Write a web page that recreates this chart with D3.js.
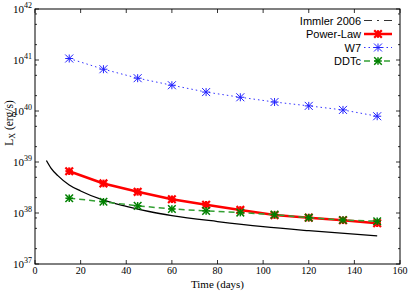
<!DOCTYPE html>
<html>
<head>
<meta charset="utf-8">
<script src="https://cdn.jsdelivr.net/npm/d3@7"></script>
<style>
  html, body { margin: 0; padding: 0; background: #fff; }
  svg { display: block; }
  .tick-lbl { font-family: "Liberation Serif", "DejaVu Serif", serif; fill: #000; }
  .leg-lbl { font-family: "Liberation Sans", Arial, sans-serif; font-size: 11px; fill: #000; }
</style>
</head>
<body>
<svg id="chart" width="415" height="291"></svg>
<script>
// ── data ──
const days = [15, 30, 45, 60, 75, 90, 105, 120, 135, 150];
const powerLaw = [6.6e38, 3.8e38, 2.6e38, 1.86e38, 1.45e38, 1.15e38, 9.1e37, 8.1e37, 7.2e37, 6.3e37];
const w7 = [1.07e41, 6.6e40, 4.4e40, 3.2e40, 2.35e40, 1.86e40, 1.5e40, 1.26e40, 1.05e40, 7.9e39];
const ddtc = [1.95e38, 1.66e38, 1.38e38, 1.2e38, 1.1e38, 1.02e38, 9.3e37, 8.1e37, 7.3e37, 6.9e37];
const immlerDays = [5, 7, 10, 15, 20, 30, 40, 50, 60, 80, 100, 120, 150];
const immler = [1.07e39, 7.6e38, 5.4e38, 3.55e38, 2.7e38, 1.78e38, 1.35e38, 1.07e38, 8.9e37, 6.8e37, 5.4e37, 4.5e37, 3.55e37];
const xTicks = [0, 20, 40, 60, 80, 100, 120, 140, 160];
const yDecades = [37, 38, 39, 40, 41, 42];
const yMinor = [2, 5, 8];
const legendNames = ['Immler 2006', 'Power-Law', 'W7', 'DDTc'];

const M = { left: 35, right: 400, top: 9, bottom: 264 };
const svg = d3.select('#chart');
const x = d3.scaleLinear().domain([0, 160]).range([M.left, M.right]);
const y = d3.scaleLog().domain([1e37, 1e42]).range([M.bottom, M.top]);

// ── frame ──
svg.append('rect')
  .attr('x', M.left).attr('y', M.top)
  .attr('width', M.right - M.left).attr('height', M.bottom - M.top)
  .attr('fill', 'none').attr('stroke', '#000').attr('stroke-width', 1);

// ── ticks (inward, mirrored) ──
const tk = svg.append('g').attr('stroke', '#000').attr('stroke-width', 0.8);
xTicks.forEach(v => {
  tk.append('line').attr('x1', x(v)).attr('x2', x(v)).attr('y1', M.bottom).attr('y2', M.bottom - 4);
  tk.append('line').attr('x1', x(v)).attr('x2', x(v)).attr('y1', M.top).attr('y2', M.top + 4);
});
yDecades.forEach(d => {
  const v = Math.pow(10, d);
  tk.append('line').attr('x1', M.left).attr('x2', M.left + 4).attr('y1', y(v)).attr('y2', y(v));
  tk.append('line').attr('x1', M.right).attr('x2', M.right - 4).attr('y1', y(v)).attr('y2', y(v));
  if (d < 42) yMinor.forEach(m => {
    const mv = m * v;
    tk.append('line').attr('x1', M.left).attr('x2', M.left + 2).attr('y1', y(mv)).attr('y2', y(mv));
    tk.append('line').attr('x1', M.right).attr('x2', M.right - 2).attr('y1', y(mv)).attr('y2', y(mv));
  });
});

// tick labels
xTicks.forEach(v => {
  svg.append('text').attr('class', 'tick-lbl')
    .attr('x', x(v)).attr('y', 274).attr('text-anchor', 'middle')
    .attr('font-size', 10).text(v);
});
yDecades.forEach(d => {
  const t = svg.append('text').attr('class', 'tick-lbl')
    .attr('x', 32).attr('y', y(Math.pow(10, d)) + 4).attr('text-anchor', 'end')
    .attr('font-size', 11);
  t.append('tspan').text('10');
  t.append('tspan').attr('font-size', 8).attr('dy', -5).text(d);
});

// axis titles
svg.append('text').attr('class', 'tick-lbl')
  .attr('x', x(80)).attr('y', 288).attr('text-anchor', 'middle')
  .attr('font-size', 11).text('Time (days)');
const yl = svg.append('text').attr('class', 'tick-lbl')
  .attr('transform', 'translate(13,123) rotate(-90)')
  .attr('text-anchor', 'middle').attr('font-size', 11.5);
yl.append('tspan').text('L');
yl.append('tspan').attr('font-size', 8).attr('dy', 2).text('X');
yl.append('tspan').attr('dy', -2).text(' (erg/s)');

// ── series ──
const line = d3.line().x(d => x(d[0])).y(d => y(d[1]));
const zip = (a, b) => a.map((v, i) => [v, b[i]]);

function star(g, cx, cy, r, color, sw) {
  const s = g.append('g').attr('stroke', color).attr('stroke-width', sw).attr('fill', 'none');
  s.append('line').attr('x1', cx - r).attr('x2', cx + r).attr('y1', cy).attr('y2', cy);
  s.append('line').attr('x1', cx).attr('x2', cx).attr('y1', cy - r).attr('y2', cy + r);
  s.append('line').attr('x1', cx - r).attr('x2', cx + r).attr('y1', cy - r).attr('y2', cy + r);
  s.append('line').attr('x1', cx - r).attr('x2', cx + r).attr('y1', cy + r).attr('y2', cy - r);
}

const SERIES = [
  { name: 'Power-Law', vals: powerLaw, color: '#ff0000', mcolor: '#ff0000', width: 2.5, dash: null, r: 3.8, msw: 2.2 },
  { name: 'W7', vals: w7, color: '#3333ff', mcolor: '#2222ff', width: 1, dash: '1.5,3', r: 4, msw: 1 },
  { name: 'DDTc', vals: ddtc, color: '#33a033', mcolor: '#008000', width: 1.5, dash: '6,4', r: 3.8, msw: 1.5 },
];

// Immler 2006 curve (solid black)
svg.append('path').datum(zip(immlerDays, immler))
  .attr('d', line.curve(d3.curveMonotoneX))
  .attr('fill', 'none').attr('stroke', '#000').attr('stroke-width', 1.3);
line.curve(d3.curveLinear);

SERIES.forEach(s => {
  const p = svg.append('path').datum(zip(days, s.vals))
    .attr('d', line).attr('fill', 'none')
    .attr('stroke', s.color).attr('stroke-width', s.width);
  if (s.dash) p.attr('stroke-dasharray', s.dash);
  days.forEach((dd, i) => star(svg, x(dd), y(s.vals[i]), s.r, s.mcolor, s.msw));
});

// ── legend ──
const legY = [20.5, 34, 47.5, 61];
const lx0 = 364, lx1 = 392;
legendNames.forEach((n, i) => {
  svg.append('text').attr('class', 'leg-lbl')
    .attr('x', 361).attr('y', legY[i] + 4).attr('text-anchor', 'end').text(n);
});
svg.append('line').attr('x1', lx0).attr('x2', lx1).attr('y1', legY[0]).attr('y2', legY[0])
  .attr('stroke', '#333').attr('stroke-width', 1.2).attr('stroke-dasharray', '8,5,2,5');
SERIES.forEach((s, i) => {
  const ly = legY[i + 1];
  const l = svg.append('line').attr('x1', lx0).attr('x2', lx1).attr('y1', ly).attr('y2', ly)
    .attr('stroke', s.color).attr('stroke-width', s.width);
  if (s.dash) l.attr('stroke-dasharray', s.dash);
  star(svg, (lx0 + lx1) / 2, ly, s.r, s.mcolor, s.msw);
});
</script>
</body>
</html>
